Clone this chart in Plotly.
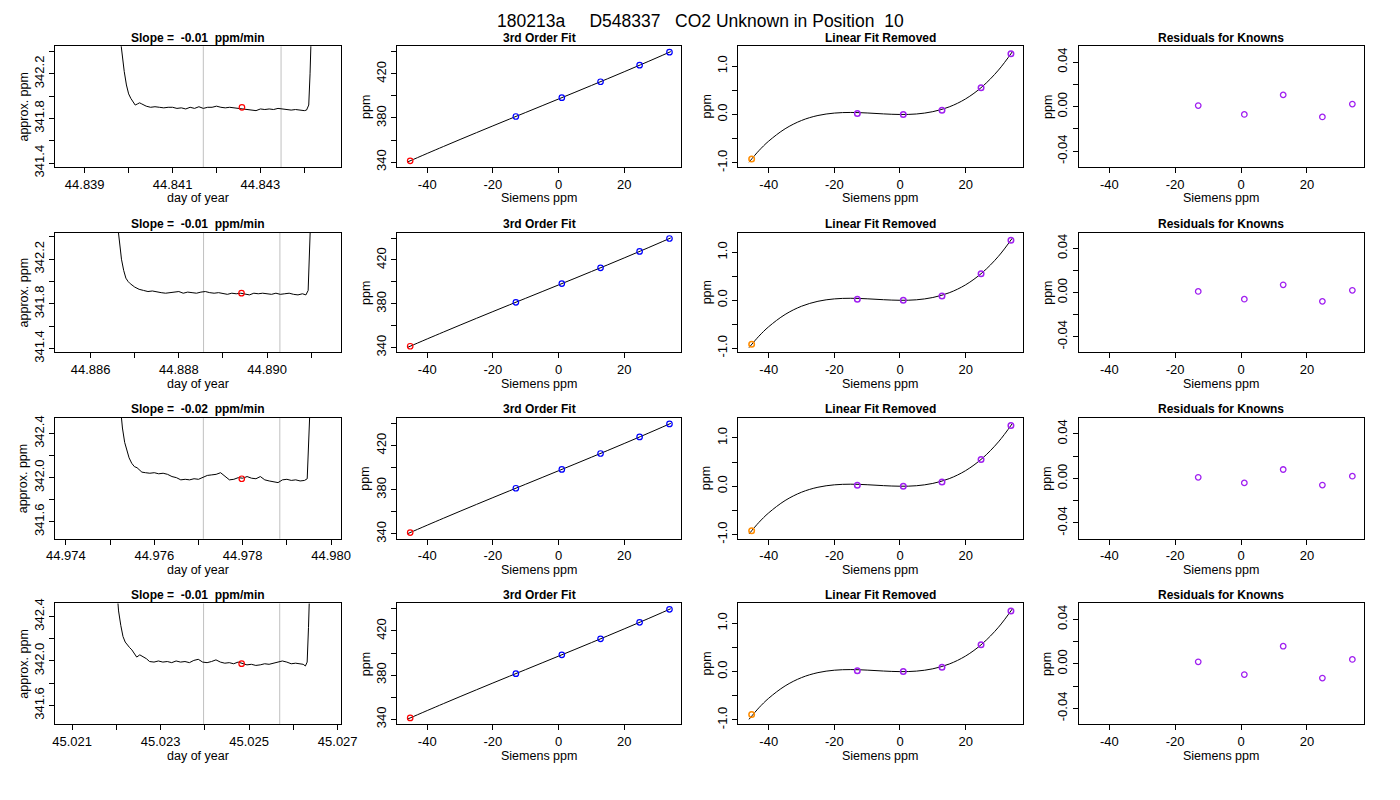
import plotly.graph_objects as go

# Spalte 1: Rohsignal (approx. ppm) gegen Tag des Jahres, eine Zeile je Messung
day_1 = [44.83980, 44.83985, 44.83990, 44.83995, 44.84000, 44.84005, 44.84010, 44.84015,
         44.84020, 44.84025, 44.84030, 44.84040, 44.84050, 44.84060, 44.84070, 44.84080,
         44.84090, 44.84100, 44.84110, 44.84120, 44.84130, 44.84140, 44.84150, 44.84160,
         44.84170, 44.84180, 44.84190, 44.84200, 44.84210, 44.84220, 44.84230, 44.84240,
         44.84250, 44.84260, 44.84270, 44.84280, 44.84290, 44.84300, 44.84310, 44.84320,
         44.84330, 44.84340, 44.84350, 44.84360, 44.84370, 44.84380, 44.84390, 44.84400,
         44.84405, 44.84410, 44.84413, 44.84416]
ppm_1 = [342.55, 342.38, 342.22, 342.10, 342.02, 341.98, 341.95, 341.92,
         341.93, 341.94, 341.93, 341.91, 341.90, 341.905, 341.90, 341.895,
         341.90, 341.90, 341.89, 341.895, 341.885, 341.90, 341.89, 341.905,
         341.89, 341.90, 341.90, 341.91, 341.90, 341.895, 341.90, 341.895,
         341.89, 341.89, 341.88, 341.875, 341.87, 341.885, 341.88, 341.885,
         341.88, 341.89, 341.885, 341.88, 341.875, 341.88, 341.875, 341.87,
         341.875, 341.92, 342.20, 342.60]

day_2 = [44.88660, 44.88665, 44.88670, 44.88675, 44.88680, 44.88685, 44.88690, 44.88700,
         44.88710, 44.88720, 44.88730, 44.88740, 44.88750, 44.88760, 44.88770, 44.88780,
         44.88790, 44.88800, 44.88810, 44.88820, 44.88830, 44.88840, 44.88850, 44.88860,
         44.88870, 44.88880, 44.88890, 44.88900, 44.88910, 44.88920, 44.88930, 44.88940,
         44.88950, 44.88960, 44.88970, 44.88980, 44.88990, 44.89000, 44.89010, 44.89020,
         44.89030, 44.89040, 44.89050, 44.89060, 44.89070, 44.89080, 44.89088, 44.89093,
         44.89096, 44.89099]
ppm_2 = [342.55, 342.35, 342.20, 342.10, 342.03, 342.00, 341.98, 341.95,
         341.93, 341.92, 341.91, 341.915, 341.905, 341.90, 341.895, 341.90,
         341.90, 341.91, 341.895, 341.905, 341.90, 341.895, 341.905, 341.91,
         341.90, 341.895, 341.90, 341.89, 341.885, 341.895, 341.89, 341.895,
         341.885, 341.88, 341.895, 341.89, 341.895, 341.89, 341.885, 341.895,
         341.885, 341.89, 341.895, 341.885, 341.88, 341.89, 341.88, 341.92,
         342.20, 342.60]

day_3 = [44.97522, 44.97528, 44.97533, 44.97538, 44.97543, 44.97549, 44.97555, 44.97561,
         44.97567, 44.97572, 44.97580, 44.97590, 44.97600, 44.97610, 44.97620, 44.97630,
         44.97640, 44.97650, 44.97660, 44.97670, 44.97680, 44.97690, 44.97700, 44.97710,
         44.97720, 44.97730, 44.97740, 44.97750, 44.97760, 44.97770, 44.97780, 44.97790,
         44.97800, 44.97810, 44.97820, 44.97830, 44.97840, 44.97850, 44.97860, 44.97870,
         44.97880, 44.97890, 44.97900, 44.97910, 44.97920, 44.97930, 44.97940, 44.97946,
         44.97950, 44.97953]
ppm_3 = [342.70, 342.45, 342.32, 342.24, 342.18, 342.13, 342.10, 342.09,
         342.07, 342.05, 342.045, 342.04, 342.045, 342.035, 342.04, 342.03,
         342.01, 342.00, 341.98, 341.985, 341.98, 341.99, 341.985, 342.00,
         342.02, 342.025, 342.03, 342.045, 342.015, 341.98, 341.985, 342.00,
         341.995, 342.01, 341.995, 341.99, 342.01, 341.98, 341.97, 341.965,
         341.955, 341.98, 341.985, 341.975, 341.98, 341.97, 341.975, 341.99,
         342.30, 342.70]

day_4 = [45.02200, 45.02205, 45.02210, 45.02215, 45.02220, 45.02225, 45.02230, 45.02235,
         45.02240, 45.02246, 45.02253, 45.02260, 45.02268, 45.02275, 45.02285, 45.02295,
         45.02305, 45.02315, 45.02325, 45.02335, 45.02345, 45.02355, 45.02365, 45.02375,
         45.02385, 45.02395, 45.02405, 45.02415, 45.02425, 45.02435, 45.02445, 45.02455,
         45.02465, 45.02475, 45.02485, 45.02495, 45.02505, 45.02515, 45.02525, 45.02535,
         45.02545, 45.02555, 45.02565, 45.02575, 45.02585, 45.02595, 45.02605, 45.02615,
         45.02622, 45.02627, 45.02631, 45.02634, 45.02637]
ppm_4 = [342.70, 342.45, 342.32, 342.22, 342.17, 342.14, 342.12, 342.10,
         342.07, 342.035, 342.055, 342.04, 342.02, 341.995, 341.99, 342.00,
         341.99, 341.995, 341.985, 342.00, 341.99, 341.995, 341.985, 342.005,
         342.015, 341.99, 341.985, 341.995, 342.01, 341.99, 341.98, 341.985,
         341.975, 341.99, 341.975, 341.965, 341.97, 341.96, 341.965, 341.975,
         341.97, 341.98, 341.985, 342.00, 341.99, 341.975, 341.98, 341.975,
         341.97, 341.955, 341.99, 342.30, 342.70]

slope_txt = ['-0.01', '-0.01', '-0.02', '-0.01']
sample_day = [44.84258, 44.88942, 44.97798, 45.02483]
sample_ppm = [341.900, 341.895, 341.990, 341.976]
window_lo = [44.84170, 44.88856, 44.97711, 45.02397]
window_hi = [44.84347, 44.89029, 44.97884, 45.02569]

day_ticks_1 = [44.839, 44.840, 44.841, 44.842, 44.843, 44.844]
day_labels_1 = ['44.839', '', '44.841', '', '44.843', '']
day_ticks_2 = [44.886, 44.887, 44.888, 44.889, 44.890, 44.891]
day_labels_2 = ['44.886', '', '44.888', '', '44.890', '']
day_ticks_3 = [44.974, 44.975, 44.976, 44.977, 44.978, 44.979, 44.980]
day_labels_3 = ['44.974', '', '44.976', '', '44.978', '', '44.980']
day_ticks_4 = [45.021, 45.022, 45.023, 45.024, 45.025, 45.026, 45.027]
day_labels_4 = ['45.021', '', '45.023', '', '45.025', '', '45.027']

raw_ticks_lo = [341.4, 341.6, 341.8, 342.0, 342.2, 342.4]
raw_labels_lo = ['341.4', '', '341.8', '', '342.2', '']
raw_ticks_hi = [341.6, 341.8, 342.0, 342.2, 342.4]
raw_labels_hi = ['341.6', '', '342.0', '', '342.4']

# Spalten 2-4: Kalibrierung gegen Siemens-Werte
siemens_known = [-13.0, 1.0, 12.8, 24.7, 33.8]
assigned_known = [381.35, 398.40, 412.85, 427.85, 439.60]
siemens_unk = -45.2
assigned_unk = [341.21, 341.21, 341.21, 341.24]

curve_x = [-46, -43, -40, -35, -30, -25, -20, -15, -10, -5, 0, 5, 10, 15, 20, 25, 30, 34.2]
curve_fit = [340.16, 344.06, 347.91, 354.25, 360.52, 366.71, 372.85, 378.95, 385.03,
             391.10, 397.18, 403.28, 409.42, 415.61, 421.86, 428.20, 434.64, 440.14]
curve_nolin = [-0.988, -0.750, -0.551, -0.296, -0.124, -0.021, 0.029, 0.042, 0.031,
               0.012, 0.0, 0.010, 0.058, 0.157, 0.323, 0.572, 0.918, 1.295]
nolin_known = [0.02, 0.0, 0.09, 0.555, 1.255]
nolin_unk = [-0.92, -0.92, -0.92, -0.89]

resid_1 = [0.0010, -0.0070, 0.0106, -0.0092, 0.0023]
resid_2 = [0.0010, -0.0060, 0.0070, -0.0080, 0.0020]
resid_3 = [0.0010, -0.0040, 0.0080, -0.0060, 0.0020]
resid_4 = [0.0018, -0.0097, 0.0158, -0.0128, 0.0039]

siemens_ticks = [-40, -20, 0, 20]
fit_ticks = [340, 360, 380, 400, 420, 440]
fit_labels = ['340', '', '380', '', '420', '']
nolin_ticks = [-1.0, -0.5, 0.0, 0.5, 1.0]
nolin_labels = ['-1.0', '', '0.0', '', '1.0']
resid_ticks = [-0.04, -0.02, 0.0, 0.02, 0.04]
resid_labels = ['-0.04', '', '0.00', '', '0.04']

days = [day_1, day_2, day_3, day_4]
ppms = [ppm_1, ppm_2, ppm_3, ppm_4]
day_ticks = [day_ticks_1, day_ticks_2, day_ticks_3, day_ticks_4]
day_labels = [day_labels_1, day_labels_2, day_labels_3, day_labels_4]
resids = [resid_1, resid_2, resid_3, resid_4]

# Achsenbereiche wie in R (xaxs="r")
day_range = [[44.83833, 44.84483], [44.88520, 44.89167],
             [44.97376, 44.98022], [45.02062, 45.02707]]
raw_range = [[341.365, 342.446], [341.365, 342.437],
             [341.446, 342.540], [341.432, 342.517]]

# Seitenrand des Browsers (8 px) abziehen, damit die Grafik ins Fenster passt
PAD = 8
W, H = 1400 - 2 * PAD, 800 - 2 * PAD
COLS = [(47, 338), (395, 685), (743, 1033), (1090, 1381)]
ROWS = [(42, 165), (232, 354), (421, 544), (610, 733)]
FONT = 'Liberation Sans, Arial, sans-serif'
TICK_SIZE = 13
TEXT_SIZE = 12.5


def px(x):
    return (x - PAD) / W


def py(y):
    return 1 - (y - PAD) / H


fig = go.Figure()
layout = {}
annotations = []
shapes = []


def ax_names(n):
    s = '' if n == 1 else str(n)
    return 'x' + s, 'y' + s, 'xaxis' + s, 'yaxis' + s


def axis(dom, rng, vals, text, anchor, vertical=False):
    d = dict(domain=dom, range=rng, anchor=anchor,
             showline=True, mirror=True, linecolor='black', linewidth=1,
             ticks='outside', ticklen=5, tickwidth=1, tickcolor='black',
             tickmode='array', tickvals=vals, ticktext=text,
             showgrid=False, zeroline=False,
             tickfont=dict(size=TICK_SIZE, color='black'))
    if vertical:
        d['tickangle'] = -90
    return d


def pts(color, lw):
    return dict(symbol='circle-open', size=5.5, color=color, line=dict(width=lw))


for r in range(4):
    for c in range(4):
        n = r * 4 + c + 1
        xr, yr, xa, ya = ax_names(n)
        x0, x1 = COLS[c]
        y0, y1 = ROWS[r]
        xdom = [px(x0), px(x1)]
        ydom = [py(y1), py(y0)]

        if c == 0:
            title = '<b>Slope =\u00a0\u00a0' + slope_txt[r] + '\u00a0\u00a0ppm/min</b>'
            xtitle, ytitle = 'day of year', 'approx. ppm'
            layout[xa] = axis(xdom, day_range[r], day_ticks[r], day_labels[r], yr)
            if r < 2:
                layout[ya] = axis(ydom, raw_range[r], raw_ticks_lo, raw_labels_lo, xr, True)
            else:
                layout[ya] = axis(ydom, raw_range[r], raw_ticks_hi, raw_labels_hi, xr, True)
            for v in (window_lo[r], window_hi[r]):
                shapes.append(dict(type='line', xref=xr, yref=yr + ' domain',
                                   x0=v, x1=v, y0=0, y1=1, layer='below',
                                   line=dict(color='#C0C0C0', width=1)))
            fig.add_trace(go.Scatter(x=days[r], y=ppms[r], mode='lines',
                                     line=dict(color='black', width=1),
                                     xaxis=xr, yaxis=yr))
            fig.add_trace(go.Scatter(x=[sample_day[r]], y=[sample_ppm[r]], mode='markers',
                                     marker=pts('red', 1.2), xaxis=xr, yaxis=yr))
        elif c == 1:
            title = '<b>3rd Order Fit</b>'
            xtitle, ytitle = 'Siemens ppm', 'ppm'
            layout[xa] = axis(xdom, [-49.3, 37.4], siemens_ticks,
                              [str(t) for t in siemens_ticks], yr)
            layout[ya] = axis(ydom, [335.6, 444.9], fit_ticks, fit_labels, xr, True)
            fig.add_trace(go.Scatter(x=curve_x, y=curve_fit, mode='lines',
                                     line=dict(color='black', width=1, shape='spline'),
                                     xaxis=xr, yaxis=yr))
            fig.add_trace(go.Scatter(x=siemens_known, y=assigned_known, mode='markers',
                                     marker=pts('blue', 1.2), xaxis=xr, yaxis=yr))
            fig.add_trace(go.Scatter(x=[siemens_unk], y=[assigned_unk[r]], mode='markers',
                                     marker=pts('red', 1.2), xaxis=xr, yaxis=yr))
        elif c == 2:
            title = '<b>Linear Fit Removed</b>'
            xtitle, ytitle = 'Siemens ppm', 'ppm'
            layout[xa] = axis(xdom, [-49.3, 37.4], siemens_ticks,
                              [str(t) for t in siemens_ticks], yr)
            layout[ya] = axis(ydom, [-1.087, 1.41], nolin_ticks, nolin_labels, xr, True)
            fig.add_trace(go.Scatter(x=curve_x, y=curve_nolin, mode='lines',
                                     line=dict(color='black', width=1, shape='spline'),
                                     xaxis=xr, yaxis=yr))
            fig.add_trace(go.Scatter(x=siemens_known, y=nolin_known, mode='markers',
                                     marker=pts('#A020F0', 1.5), xaxis=xr, yaxis=yr))
            fig.add_trace(go.Scatter(x=[siemens_unk], y=[nolin_unk[r]], mode='markers',
                                     marker=pts('#FF8C00', 1.5), xaxis=xr, yaxis=yr))
        else:
            title = '<b>Residuals for Knowns</b>'
            xtitle, ytitle = 'Siemens ppm', 'ppm'
            layout[xa] = axis(xdom, [-49.3, 37.4], siemens_ticks,
                              [str(t) for t in siemens_ticks], yr)
            layout[ya] = axis(ydom, [-0.0542, 0.0542], resid_ticks, resid_labels, xr, True)
            fig.add_trace(go.Scatter(x=siemens_known, y=resids[r], mode='markers',
                                     marker=pts('#A020F0', 1.3), xaxis=xr, yaxis=yr))

        annotations.append(dict(text=title, x=px((x0 + x1) / 2), y=py(y0 - 9),
                                xref='paper', yref='paper', showarrow=False,
                                xanchor='center', yanchor='middle',
                                font=dict(size=12, color='black')))
        annotations.append(dict(text=xtitle, x=px((x0 + x1) / 2), y=py(y1 + 32),
                                xref='paper', yref='paper', showarrow=False,
                                xanchor='center', yanchor='middle',
                                font=dict(size=TEXT_SIZE, color='black')))
        annotations.append(dict(text=ytitle, x=px(x0 - 32), y=py((y0 + y1) / 2),
                                xref='paper', yref='paper', showarrow=False, textangle=-90,
                                xanchor='center', yanchor='middle',
                                font=dict(size=TEXT_SIZE, color='black')))

# Haupttitel: so weit oben wie die Zeichenflaeche es erlaubt
main = '180213a' + '\u00a0' * 5 + 'D548337' + '\u00a0' * 3 + \
       'CO2 Unknown in Position' + '\u00a0' * 2 + '10'
annotations.append(dict(text=main, x=px(705), y=py(16), xref='paper', yref='paper',
                        showarrow=False, xanchor='center', yanchor='middle',
                        font=dict(size=17.5, color='black')))

fig.update_layout(**layout)
fig.update_layout(
    width=W, height=H,
    margin=dict(l=0, r=0, t=0, b=0),
    paper_bgcolor='white', plot_bgcolor='white',
    showlegend=False,
    font=dict(family=FONT, color='black'),
    annotations=annotations,
    shapes=shapes,
)

fig.write_html("out.html", config={'displayModeBar': False})
